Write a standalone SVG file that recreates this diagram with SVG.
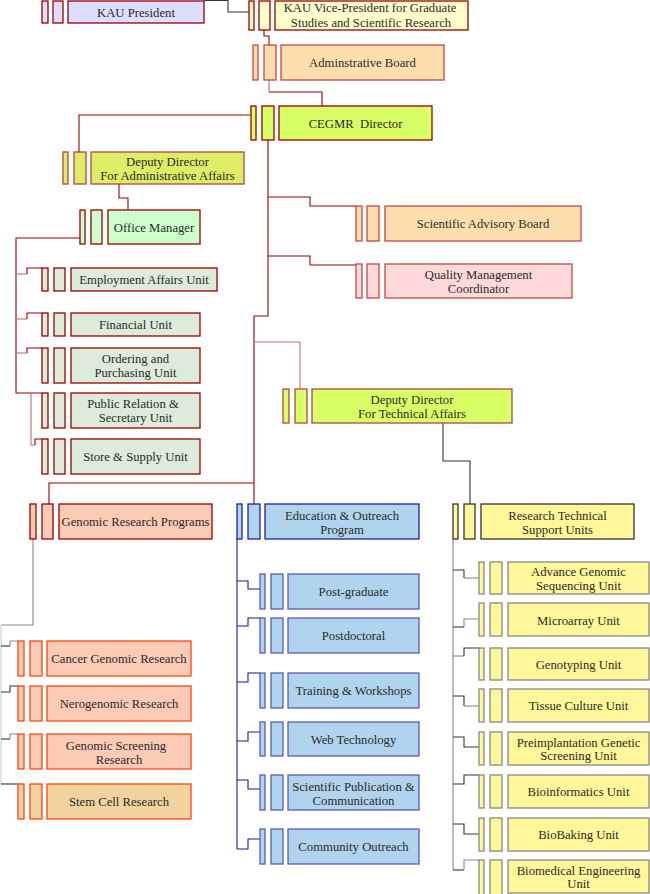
<svg xmlns="http://www.w3.org/2000/svg" width="650" height="894" viewBox="0 0 650 894">
<style>
text{font-family:"Liberation Serif","Times New Roman",serif;font-size:12.7px;fill:#2a2a2a;text-anchor:middle;white-space:pre}
rect{stroke-width:1.3}
.c path{fill:none;stroke-width:1.1}
.dr{stroke:#990000}
.lr{stroke:#c07070}
.dk{stroke:#333333}
.gy{stroke:#888888}
.lg{stroke:#cccccc}
.nv{stroke:#1a1a8c}
.lav rect{fill:#ddddff;stroke:#990000}
.vp rect{fill:#ffffcc;stroke:#990000}
.peach rect{fill:#ffdead;stroke:#c04848}
.lime rect{fill:#d9ff66;stroke:#990000}
.limel rect{fill:#d9ff66;stroke:#b04848}
.ygn rect{fill:#ddee66;stroke:#b04848}
.mint rect{fill:#ccffcc;stroke:#990000}
.sage rect{fill:#ddebda;stroke:#990000}
.pink rect{fill:#ffd9d9;stroke:#c04848}
.salm rect{fill:#fbcbb5;stroke:#990000}
.salo rect{fill:#fbcbb5;stroke:#ff4411}
.tan rect{fill:#f2d3a0;stroke:#ff4411}
.blue rect{fill:#b0d4ee;stroke:#1f1f99}
.bluel rect{fill:#b0d4ee;stroke:#5a5ab5}
.yel rect{fill:#fff799;stroke:#333333}
.yell rect{fill:#fff799;stroke:#888888}
</style>
<g class="c" id="connectors">
<path class="dk" d="M204,0.5H228V12H249"/>
<path class="dr" d="M264,30V36H269V45"/>
<path class="lr" d="M269,80V92"/>
<path class="dr" d="M269,92H322V106"/>
<path class="dr" d="M251,115H79V152"/>
<path class="dr" d="M119,184V198H128V210"/>
<path class="dr" d="M80,238H16V393H42"/>
<path class="lr" d="M16,274H27"/>
<path class="dr" d="M27,274V268H42"/>
<path class="lr" d="M16,319H27"/>
<path class="dr" d="M27,319V313H42"/>
<path class="lr" d="M16,353H27"/>
<path class="dr" d="M27,353V348H42"/>
<path class="lr" d="M31,393V445H35"/>
<path class="dr" d="M35,445V439H42"/>
<path class="dr" d="M268,140V316H254V504"/>
<path class="dr" d="M268,197H310V206H356"/>
<path class="dr" d="M268,256H310V265H356"/>
<path class="lr" d="M254,342H300V389"/>
<path class="dr" d="M254,483H49V504"/>
<path class="dk" d="M443,423V461H470V504"/>
<path class="gy" d="M33,539V625H1"/>
<path class="lg" d="M1,625V784"/>
<path class="dk" d="M1,646H10"/>
<path class="gy" d="M10,646V641H18"/>
<path class="dk" d="M1,692H10V686H18"/>
<path class="dk" d="M1,739H10"/>
<path class="gy" d="M10,739V734H18"/>
<path class="dk" d="M1,784H18"/>
<path class="nv" d="M237,539V849"/>
<path class="nv" d="M237,581H248V589H260"/>
<path class="nv" d="M237,626H248V618H260"/>
<path class="nv" d="M237,682H248V673H260"/>
<path class="nv" d="M237,741H248V732H260"/>
<path class="nv" d="M237,780H248V789H260"/>
<path class="nv" d="M237,849H248V839H260"/>
<path class="gy" d="M453,539V870"/>
<path class="dk" d="M453,570H464V578"/>
<path class="gy" d="M464,578H479"/>
<path class="dk" d="M453,627H464"/>
<path class="gy" d="M464,627V619H479"/>
<path class="gy" d="M453,656H464"/>
<path class="dk" d="M464,656V648H479"/>
<path class="dk" d="M453,696H464V706"/>
<path class="gy" d="M464,706H479"/>
<path class="dk" d="M453,737H464V747H479"/>
<path class="dk" d="M453,784H464V775H479"/>
<path class="dk" d="M453,824H464V834H479"/>
<path class="dk" d="M453,870H464"/>
<path class="gy" d="M464,870V860H479"/>
</g>
<g id="kau-president" class="lav"><rect x="42" y="1" width="6" height="22"/><rect x="53" y="1" width="10" height="22"/><rect x="68" y="1" width="136" height="22"/><text x="136" y="16.5">KAU President</text></g>
<g id="kau-vp" class="vp"><rect x="249" y="1" width="5" height="29"/><rect x="259" y="1" width="11" height="29"/><rect x="275" y="1" width="193" height="29"/><text x="370" y="12">KAU Vice-President for Graduate</text><text x="371" y="27">Studies and Scientific Research</text></g>
<g id="admin-board" class="peach"><rect x="253" y="45" width="5" height="35"/><rect x="264" y="45" width="12" height="35"/><rect x="281" y="45" width="163" height="35"/><text x="362.5" y="67">Adminstrative Board</text></g>
<g id="cegmr-director" class="lime"><rect x="251" y="106" width="5" height="34"/><rect x="262" y="106" width="12" height="34"/><rect x="279" y="106" width="153" height="34"/><text x="355.5" y="127.5">CEGMR  Director</text></g>
<g id="deputy-admin" class="ygn"><rect x="63" y="152" width="5" height="32"/><rect x="74" y="152" width="12" height="32"/><rect x="91" y="152" width="153" height="32"/><text x="167.5" y="165.5">Deputy Director</text><text x="167.5" y="179.5">For Administrative Affairs</text></g>
<g id="office-manager" class="mint"><rect x="80" y="210" width="5" height="34"/><rect x="91" y="210" width="11" height="34"/><rect x="108" y="210" width="92" height="34"/><text x="154" y="231.5">Office Manager</text></g>
<g id="employment" class="sage"><rect x="42" y="268" width="6" height="23"/><rect x="54" y="268" width="11" height="23"/><rect x="71" y="268" width="146" height="23"/><text x="144" y="284">Employment Affairs Unit</text></g>
<g id="financial" class="sage"><rect x="42" y="313" width="6" height="23"/><rect x="54" y="313" width="11" height="23"/><rect x="71" y="313" width="129" height="23"/><text x="135.5" y="329">Financial Unit</text></g>
<g id="ordering" class="sage"><rect x="42" y="348" width="6" height="35"/><rect x="54" y="348" width="11" height="35"/><rect x="71" y="348" width="129" height="35"/><text x="135.5" y="362.5">Ordering and</text><text x="135.5" y="376.5">Purchasing Unit</text></g>
<g id="public-relation" class="sage"><rect x="42" y="393" width="6" height="35"/><rect x="54" y="393" width="11" height="35"/><rect x="71" y="393" width="129" height="35"/><text x="133" y="408">Public Relation &amp;</text><text x="135.5" y="422">Secretary Unit</text></g>
<g id="store-supply" class="sage"><rect x="42" y="439" width="6" height="35"/><rect x="54" y="439" width="11" height="35"/><rect x="71" y="439" width="129" height="35"/><text x="135.5" y="461">Store &amp; Supply Unit</text></g>
<g id="scientific-advisory" class="peach"><rect x="356" y="206" width="6" height="35"/><rect x="367" y="206" width="12" height="35"/><rect x="385" y="206" width="196" height="35"/><text x="483" y="228">Scientific Advisory Board</text></g>
<g id="quality-management" class="pink"><rect x="356" y="264" width="6" height="34"/><rect x="367" y="264" width="12" height="34"/><rect x="385" y="264" width="187" height="34"/><text x="478.5" y="278.5">Quality Management</text><text x="478.5" y="292.5">Coordinator</text></g>
<g id="deputy-technical" class="limel"><rect x="283" y="389" width="6" height="34"/><rect x="295" y="389" width="12" height="34"/><rect x="312" y="389" width="200" height="34"/><text x="412" y="403.5">Deputy Director</text><text x="412" y="417.5">For Technical Affairs</text></g>
<g id="genomic-programs" class="salm"><rect x="30" y="504" width="6" height="35"/><rect x="42" y="504" width="11" height="35"/><rect x="59" y="504" width="153" height="35"/><text x="135.5" y="526">Genomic Research Programs</text></g>
<g id="education" class="blue"><rect x="237" y="504" width="5" height="35"/><rect x="248" y="504" width="12" height="35"/><rect x="265" y="504" width="154" height="35"/><text x="342" y="519.5">Education &amp; Outreach</text><text x="342" y="533.5">Program</text></g>
<g id="research-technical" class="yel"><rect x="453" y="504" width="5" height="35"/><rect x="464" y="504" width="11" height="35"/><rect x="481" y="504" width="153" height="35"/><text x="557.5" y="519.5">Research Technical</text><text x="557.5" y="533.5">Support Units</text></g>
<g id="cancer" class="salo"><rect x="18" y="641" width="6" height="35"/><rect x="30" y="641" width="12" height="35"/><rect x="47" y="641" width="144" height="35"/><text x="119" y="663">Cancer Genomic Research</text></g>
<g id="nerogenomic" class="salo"><rect x="18" y="686" width="6" height="35"/><rect x="30" y="686" width="12" height="35"/><rect x="47" y="686" width="144" height="35"/><text x="119" y="708">Nerogenomic Research</text></g>
<g id="genomic-screening" class="salo"><rect x="18" y="734" width="6" height="35"/><rect x="30" y="734" width="12" height="35"/><rect x="47" y="734" width="144" height="35"/><text x="116" y="749.5">Genomic Screening</text><text x="119" y="763.5">Research</text></g>
<g id="stem-cell" class="tan"><rect x="18" y="784" width="6" height="35"/><rect x="30" y="784" width="12" height="35"/><rect x="47" y="784" width="144" height="35"/><text x="119" y="806">Stem Cell Research</text></g>
<g id="post-graduate" class="bluel"><rect x="260" y="574" width="5" height="35"/><rect x="271" y="574" width="12" height="35"/><rect x="288" y="574" width="131" height="35"/><text x="353.5" y="596">Post-graduate</text></g>
<g id="postdoctoral" class="bluel"><rect x="260" y="618" width="5" height="35"/><rect x="271" y="618" width="12" height="35"/><rect x="288" y="618" width="131" height="35"/><text x="353.5" y="640">Postdoctoral</text></g>
<g id="training" class="bluel"><rect x="260" y="673" width="5" height="35"/><rect x="271" y="673" width="12" height="35"/><rect x="288" y="673" width="131" height="35"/><text x="353.5" y="695">Training &amp; Workshops</text></g>
<g id="web-technology" class="bluel"><rect x="260" y="722" width="5" height="34"/><rect x="271" y="722" width="12" height="34"/><rect x="288" y="722" width="131" height="34"/><text x="353.5" y="743.5">Web Technology</text></g>
<g id="scientific-publication" class="bluel"><rect x="260" y="775" width="5" height="35"/><rect x="271" y="775" width="12" height="35"/><rect x="288" y="775" width="131" height="35"/><text x="353.5" y="790.5">Scientific Publication &amp;</text><text x="353.5" y="804.5">Communication</text></g>
<g id="community-outreach" class="bluel"><rect x="260" y="829" width="5" height="35"/><rect x="271" y="829" width="12" height="35"/><rect x="288" y="829" width="131" height="35"/><text x="353.5" y="851">Community Outreach</text></g>
<g id="advance-genomic" class="yell"><rect x="479" y="562" width="5" height="32"/><rect x="490" y="562" width="12" height="32"/><rect x="508" y="562" width="141" height="32"/><text x="578.5" y="576">Advance Genomic</text><text x="578.5" y="590">Sequencing Unit</text></g>
<g id="microarray" class="yell"><rect x="479" y="603" width="5" height="33"/><rect x="490" y="603" width="12" height="33"/><rect x="508" y="603" width="141" height="33"/><text x="578.5" y="624.5">Microarray Unit</text></g>
<g id="genotyping" class="yell"><rect x="479" y="648" width="5" height="32"/><rect x="490" y="648" width="12" height="32"/><rect x="508" y="648" width="141" height="32"/><text x="578.5" y="669">Genotyping Unit</text></g>
<g id="tissue-culture" class="yell"><rect x="479" y="689" width="5" height="33"/><rect x="490" y="689" width="12" height="33"/><rect x="508" y="689" width="141" height="33"/><text x="578.5" y="710">Tissue Culture Unit</text></g>
<g id="preimplantation" class="yell"><rect x="479" y="732" width="5" height="33"/><rect x="490" y="732" width="12" height="33"/><rect x="508" y="732" width="141" height="33"/><text x="578.5" y="746.5">Preimplantation Genetic</text><text x="578.5" y="760">Screening Unit</text></g>
<g id="bioinformatics" class="yell"><rect x="479" y="775" width="5" height="33"/><rect x="490" y="775" width="12" height="33"/><rect x="508" y="775" width="141" height="33"/><text x="578.5" y="795.5">Bioinformatics Unit</text></g>
<g id="biobaking" class="yell"><rect x="479" y="818" width="5" height="33"/><rect x="490" y="818" width="12" height="33"/><rect x="508" y="818" width="141" height="33"/><text x="578.5" y="839">BioBaking Unit</text></g>
<g id="biomedical" class="yell"><rect x="479" y="860" width="5" height="40"/><rect x="490" y="860" width="12" height="40"/><rect x="508" y="860" width="141" height="33"/><text x="578.5" y="874.5">Biomedical Engineering</text><text x="578.5" y="888">Unit</text></g>
</svg>
